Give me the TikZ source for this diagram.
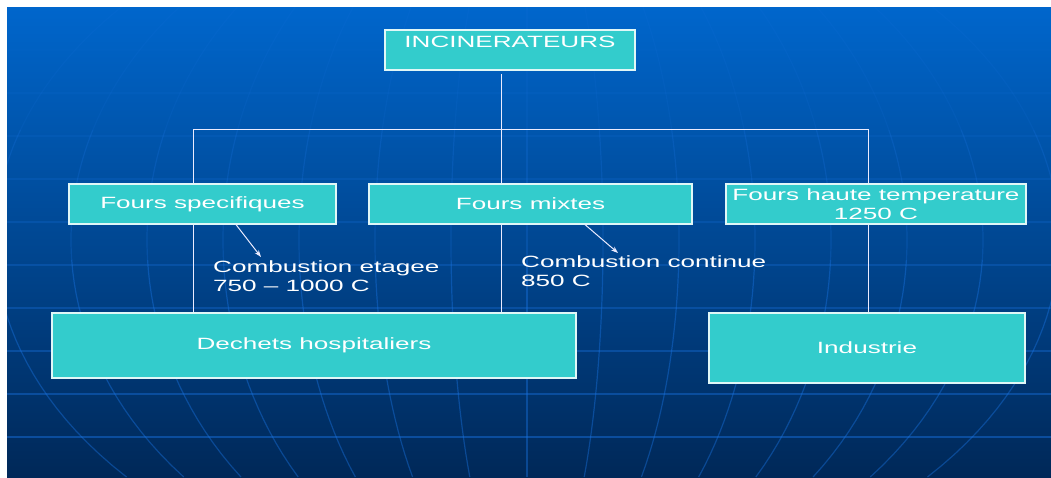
\documentclass[tikz,border=0pt]{standalone}
\usepackage{fontspec}
\setmainfont[FakeStretch=1.6]{Liberation Sans}
\usetikzlibrary{arrows.meta}

\definecolor{slidetop}{RGB}{0,102,204}
\definecolor{slidebot}{RGB}{0,40,88}
\definecolor{gridblue}{RGB}{25,115,225}
\definecolor{boxfill}{RGB}{51,204,204}

\tikzset{
	box/.style={draw=white!85!boxfill, line width=1.2pt, fill=boxfill, text=white, inner sep=0pt, align=center, font=\fontsize{16.3}{18.5}\selectfont},
	lbl/.style={text=white, inner sep=0pt, anchor=west, align=left, font=\fontsize{16.3}{18.5}\selectfont},
	conn/.style={draw=white!92!blue, line width=1pt},
	arr/.style={conn, -{Stealth[length=7pt,width=5pt]}},
	grid/.style={draw=gridblue, line width=1.2pt}
}

\begin{document}
\begin{tikzpicture}[x=1pt, y=-1pt]
	\fill[white] (0,0) rectangle (1051,477);
	\useasboundingbox (0,0) rectangle (1051,477);
	\shade[top color=slidetop, bottom color=slidebot] (7,7) rectangle (1051,477);
	
	% globe grid, fainter towards the top
	\begin{scope}
		\clip (7,7) rectangle (1051,477);
		\foreach \a/\b/\o in {7/130/0.12, 130/260/0.25, 260/477/0.42}
			\foreach \k in {-7,...,7}
				\draw[grid, opacity=\o] plot[domain=\a:\b, samples=20, variable=\t] ({527+\k*76*sqrt(1-((\t-240)/360)^2)}, \t);
		\foreach \n in {0,...,9}{
			\pgfmathsetmacro\o{0.06+0.045*\n}
			\draw[grid, opacity=\o] (7,50+43*\n) -- (1051,50+43*\n);
		}
	\end{scope}
	
	\node[box, minimum width=250pt, text height=15pt, text depth=21pt, inner ysep=2pt] (inc) at (510,50) {INCINERATEURS};
	\node[box, minimum width=267pt, minimum height=40pt] (sp) at (202.5,204) {Fours specifiques};
	\node[box, minimum width=323pt, minimum height=40pt] (mx) at (530.5,204) {Fours mixtes};
	\node[box, minimum width=300pt, minimum height=40pt] (ht) at (876,204) {Fours haute temperature\\1250 C};
	\node[box, minimum width=524pt, minimum height=65pt] (dh) at (314,345.5) {Dechets hospitaliers};
	\node[box, minimum width=316pt, minimum height=70pt] (ind) at (867,348) {Industrie};
	
	\coordinate (incfoot) at (501,74);
	\coordinate (busL) at (193,129);
	\coordinate (busM) at (501,129);
	\coordinate (busR) at (868,129);
	
	\draw[conn] (incfoot) -- (busM);
	\draw[conn] (busL) -- (busR);
	\draw[conn] (busL) -- (busL |- sp.north);
	\draw[conn] (busM) -- (busM |- mx.north);
	\draw[conn] (busR) -- (busR |- ht.north);
	\draw[conn] (busL |- sp.south) -- (busL |- dh.north);
	\draw[conn] (busM |- mx.south) -- (busM |- dh.north);
	\draw[conn] (busR |- ht.south) -- (busR |- ind.north);
	
	\node[lbl] (etagee) at (213,276) {Combustion etagee\\750 – 1000 C};
	\node[lbl] (continue) at (521,271) {Combustion continue\\850 C};
	\coordinate (etTip) at (261,257);
	\coordinate (coTip) at (618,253);
	\draw[arr] ([xshift=33.5pt]sp.south) -- (etTip);
	\draw[arr] ([xshift=54.5pt]mx.south) -- (coTip);
\end{tikzpicture}
\end{document}
